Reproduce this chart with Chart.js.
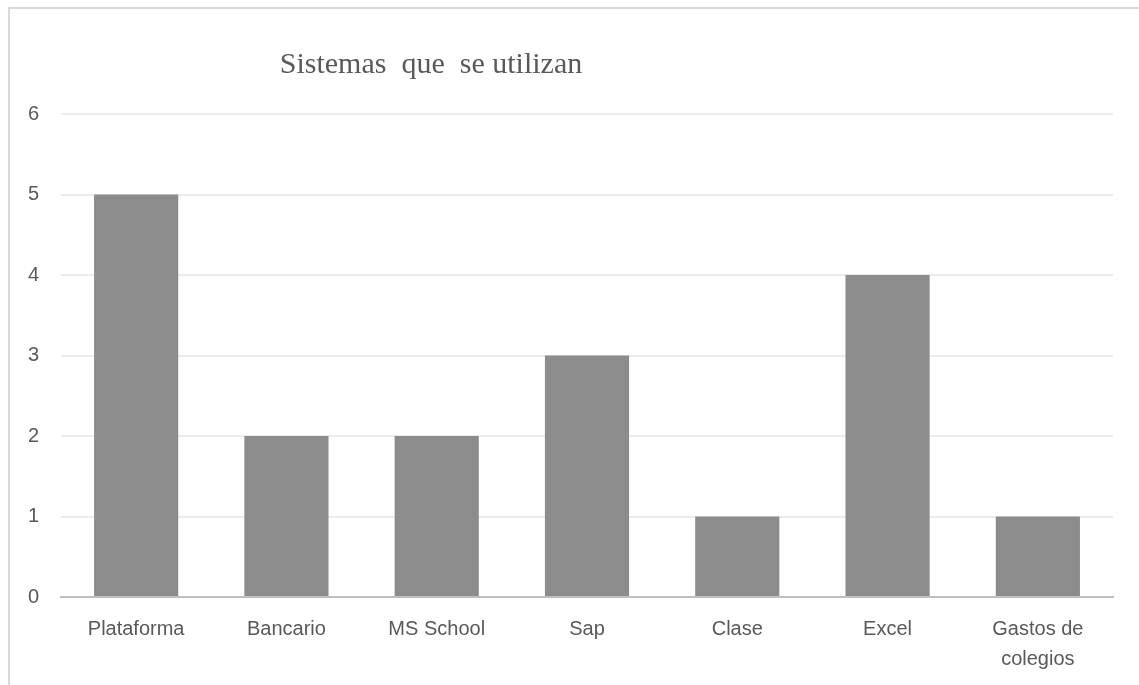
<!DOCTYPE html>
<html>
<head>
<meta charset="utf-8">
<script src="https://cdn.jsdelivr.net/npm/chart.js@4.4.0/dist/chart.umd.js"></script>
<style>
    html, body { margin: 0; padding: 0; background: #fff; overflow: hidden; }
    #frame {
        position: absolute; left: 8px; top: 7px;
        width: 1300px; height: 900px;
        border-top: 2px solid #d9d9d9; border-left: 2px solid #d9d9d9;
    }
    #wrap { position: absolute; left: 0; top: 0; width: 1139px; height: 685px; }
</style>
</head>
<body>
<div id="frame"></div>
<div id="wrap"><canvas id="chart"></canvas></div>
<script>
const categories = ['Plataforma', 'Bancario', 'MS School', 'Sap', 'Clase', 'Excel', ['Gastos de', 'colegios']];
const values = [5, 2, 2, 3, 1, 4, 1];
const yTicks = [0, 1, 2, 3, 4, 5, 6];
const chartTitle = 'Sistemas  que  se utilizan';

// title sits left of centre in the original, so draw it by hand
const titlePlugin = {
    id: 'offsetTitle',
    afterDraw(chart) {
        const ctx = chart.ctx;
        ctx.save();
        ctx.font = '30px "Liberation Serif", serif';
        ctx.fillStyle = '#595959';
        ctx.textAlign = 'center';
        ctx.textBaseline = 'middle';
        ctx.fillText(chartTitle, 431, 65);
        ctx.restore();
    }
};

new Chart(document.getElementById('chart'), {
    type: 'bar',
    data: {
        labels: categories,
        datasets: [{
            data: values,
            backgroundColor: '#8c8c8c',
            barPercentage: 0.56,
            categoryPercentage: 1
        }]
    },
    options: {
        responsive: true,
        maintainAspectRatio: false,
        animation: false,
        layout: { padding: { left: 20, right: 26, top: 114, bottom: 0 } },
        plugins: {
            legend: { display: false },
            title: { display: false },
            tooltip: { enabled: false }
        },
        scales: {
            x: {
                grid: { display: false },
                border: { color: '#bfbfbf', width: 2 },
                ticks: {
                    color: '#595959',
                    font: { family: '"Liberation Sans", sans-serif', size: 20, lineHeight: 1.5 },
                    padding: 9,
                    maxRotation: 0
                },
                afterFit(scale) { scale.height = 88; }
            },
            y: {
                min: 0,
                max: 6,
                afterBuildTicks(scale) { scale.ticks = yTicks.map(v => ({ value: v })); },
                grid: {
                    color: '#ececec',
                    lineWidth: 2,
                    drawTicks: false
                },
                border: { display: false },
                ticks: {
                    color: '#595959',
                    font: { family: '"Liberation Sans", sans-serif', size: 20 },
                    padding: 22
                },
                afterFit(scale) { scale.width = 41; }
            }
        }
    },
    plugins: [titlePlugin]
});
</script>
</body>
</html>
